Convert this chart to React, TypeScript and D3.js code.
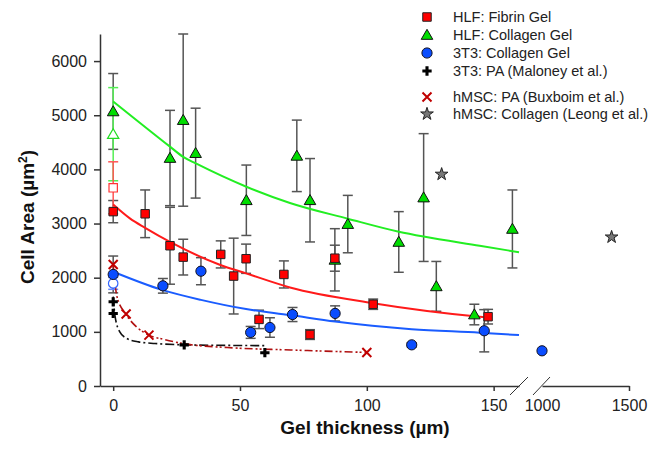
import * as d3 from "d3";
import { useEffect, useRef } from "react";

// HLF: Fibrin Gel (filled red squares)
const fibrinX = [0, 12.6, 22.4, 27.6, 42.4, 47.5, 52.4, 57.5, 67.3, 77.6, 87.4, 102.5, 147.8];
const fibrinY = [3220, 3180, 2590, 2380, 2430, 2030, 2350, 1230, 2060, 950, 2360, 1510, 1280];
const fibrinErr = [205, 440, 710, 330, 250, 700, 270, 170, 250, 90, 240, 95, 135];

// HLF: Collagen Gel (green triangles)
const hlfColX = [0, 22.4, 27.6, 32.5, 52.5, 72.4, 77.6, 87.4, 92.5, 112.6, 122.4, 127.4, 142.4, 157.4];
const hlfColY = [5070, 4210, 4910, 4300, 3430, 4250, 3430, 2330, 2990, 2660, 3480, 1840, 1320, 2900];
const hlfColErr = [700, 880, 1590, 830, 650, 660, 770, 575, 530, 560, 1180, 460, 190, 720];

// 3T3: Collagen Gel (blue circles)
const t3ColX = [0, 19.6, 34.6, 54.2, 61.8, 70.7, 87.5, 117.7, 146.3, 1000];
const t3ColY = [2060, 1850, 2120, 990, 1080, 1320, 1340, 760, 1020, 650];
const t3ColErr = [340, 135, 250, 110, 180, 130, 140, 40, 390, 0];

// 3T3: PA (Maloney et al.)
const maloneyX = [0, 0, 28, 59.8];
const maloneyY = [1555, 1340, 760, 615];

// hMSC: PA (Buxboim et al.)
const buxboimX = [0, 5.1, 14.1, 100];
const buxboimY = [2245, 1330, 940, 620];

// hMSC: Collagen (Leong et al.)
const leongX = [129.5, 1400];
const leongY = [3910, 2750];

// open markers at zero thickness
const openY = { triangle: 4650, square: 3660, circle: 1895 };
const openErr = { triangle: 860, square: 480, circle: 110 };

// fitted curves
const greenFitX = [0, 22.4, 27.6, 32.6, 52.5, 69.7, 92.5, 112.6, 122.4, 144.5, 160];
const greenFitY = [5255, 4420, 4230, 4110, 3680, 3380, 3090, 2850, 2760, 2590, 2470];
const redFitX = [0, 6.7, 12.6, 22.4, 42, 52.4, 69.7, 102.5, 144.5, 148];
const redFitY = [3350, 3090, 2920, 2660, 2240, 2080, 1820, 1530, 1280, 1265];
const blueFitX = [0, 19.6, 34.6, 52.4, 69.7, 87.5, 117.7, 144.5, 160];
const blueFitY = [2110, 1770, 1590, 1420, 1310, 1190, 1050, 985, 940];
const blackFitX = [0, 0.7, 2.6, 5.3, 10, 16.5, 28, 45, 60];
const blackFitY = [1650, 1300, 1000, 880, 815, 785, 760, 750, 745];
const bxFitX = [0, 1.5, 5.1, 10, 14.1, 20, 28, 45, 70, 100];
const bxFitY = [2230, 1650, 1320, 1060, 940, 860, 780, 710, 665, 620];

const yTicks = [0, 1000, 2000, 3000, 4000, 5000, 6000];
const xTicksLeft = [0, 50, 100, 150];
const xTicksRight = [1000, 1500];

const legendItems = [
  "HLF: Fibrin Gel",
  "HLF: Collagen Gel",
  "3T3: Collagen Gel",
  "3T3: PA (Maloney et al.)",
  "hMSC: PA (Buxboim et al.)",
  "hMSC: Collagen (Leong et al.)",
];

const W = 663, H = 455;
const font = "'Liberation Sans', Arial, Helvetica, sans-serif";
const RED = "#ff0000", GREEN = "#00dd00", BLUE = "#0a4dff", DKRED = "#c00000";

export default function App() {
  const svgRef = useRef(null);

  useEffect(() => {
    const svg = d3.select(svgRef.current);
    svg.selectAll("*").remove();

    const y = d3.scaleLinear().domain([0, 6500]).range([386, 34]);
    const xL = d3.scaleLinear().domain([-5.2, 160]).range([100, 519]);
    const xR = d3.scaleLinear().domain([1000, 1500]).range([542, 629]);
    const xp = (v) => (v >= 500 ? xR(v) : xL(v));
    const fmt = d3.format("d");

    // axes
    const yAx = svg.append("g").attr("transform", "translate(100,0)")
      .call(d3.axisLeft(y).tickValues(yTicks).tickFormat(fmt).tickSize(6).tickSizeOuter(0));
    const xAxL = svg.append("g").attr("transform", "translate(0,386)")
      .call(d3.axisBottom(xL).tickValues(xTicksLeft).tickFormat(fmt).tickSize(5).tickSizeOuter(0));
    const xAxR = svg.append("g").attr("transform", "translate(0,386)")
      .call(d3.axisBottom(xR).tickValues(xTicksRight).tickFormat(fmt).tickSize(5).tickSizeOuter(0));
    xAxR.selectAll(".tick").filter(d => d === 1000).select("line").remove();
    [yAx, xAxL, xAxR].forEach(g => {
      g.select(".domain").attr("stroke", "#333").attr("stroke-width", 1.5);
      g.selectAll(".tick line").attr("stroke", "#333").attr("stroke-width", 1.5);
      g.selectAll("text").attr("font-family", font).attr("font-size", 16).attr("fill", "#222");
    });
    yAx.selectAll("text").attr("x", -13);
    xAxL.selectAll("text").attr("y", 14);
    xAxR.selectAll("text").attr("y", 14);

    // axis break slashes
    [[510, 528], [533, 550]].forEach(([a, b]) => {
      svg.append("line").attr("x1", a).attr("y1", 395).attr("x2", b).attr("y2", 377)
        .attr("stroke", "#333").attr("stroke-width", 1);
    });

    // titles
    const yt = svg.append("text").attr("transform", `translate(34,217) rotate(-90)`)
      .attr("text-anchor", "middle").attr("font-family", font).attr("font-weight", "bold")
      .attr("font-size", 19).attr("fill", "#111");
    yt.append("tspan").text("Cell Area  (µm");
    yt.append("tspan").attr("baseline-shift", "super").attr("font-size", 12).text("2");
    yt.append("tspan").text(")");
    svg.append("text").attr("x", 365).attr("y", 434).attr("text-anchor", "middle")
      .attr("font-family", font).attr("font-weight", "bold").attr("font-size", 19).attr("fill", "#111")
      .text("Gel thickness (µm)");

    // error bars
    const errBars = (xs, ys, es, color) => {
      xs.forEach((xv, i) => {
        if (!es[i]) return;
        const cx = xp(xv), t = y(ys[i] + es[i]), b = y(ys[i] - es[i]);
        const g = svg.append("g").attr("stroke", color).attr("stroke-width", 1.5);
        g.append("line").attr("x1", cx).attr("x2", cx).attr("y1", t).attr("y2", b);
        g.append("line").attr("x1", cx - 5).attr("x2", cx + 5).attr("y1", t).attr("y2", t);
        g.append("line").attr("x1", cx - 5).attr("x2", cx + 5).attr("y1", b).attr("y2", b);
      });
    };
    errBars(hlfColX, hlfColY, hlfColErr, "#555");
    errBars(fibrinX, fibrinY, fibrinErr, "#555");
    errBars(t3ColX, t3ColY, t3ColErr, "#555");
    errBars([0], [openY.triangle], [openErr.triangle], "#55ee55");
    errBars([0], [openY.square], [openErr.square], "#ff5555");
    errBars([0], [openY.circle], [openErr.circle], "#6688ff");

    // fitted curves
    const fit = (xs, ys, color, dash, w) => {
      const line = d3.line().x(d => xp(d[0])).y(d => y(d[1])).curve(d3.curveMonotoneX);
      svg.append("path").datum(xs.map((v, i) => [v, ys[i]])).attr("d", line)
        .attr("fill", "none").attr("stroke", color).attr("stroke-width", w)
        .attr("stroke-dasharray", dash);
    };
    fit(greenFitX, greenFitY, "#22ee22", null, 2);
    fit(redFitX, redFitY, "#ff1a1a", null, 2);
    fit(blueFitX, blueFitY, "#1a5cff", null, 2);
    fit(blackFitX, blackFitY, "#111", "9,3,2,3", 1.6);
    fit(bxFitX, bxFitY, "#b01010", "8,3,2,2,2,3", 1.6);

    // markers
    const sym = (type, size) => d3.symbol().type(type).size(size)();
    const drawSym = (cx, cy, type, size, fill, stroke, sw) => {
      svg.append("path").attr("d", sym(type, size))
        .attr("transform", `translate(${cx},${cy})`)
        .attr("fill", fill).attr("stroke", stroke).attr("stroke-width", sw);
    };
    const drawX = (cx, cy) => {
      const r = 4.5;
      svg.append("path").attr("d", `M${cx - r},${cy - r}L${cx + r},${cy + r}M${cx - r},${cy + r}L${cx + r},${cy - r}`)
        .attr("stroke", DKRED).attr("stroke-width", 2).attr("fill", "none");
    };

    // open markers
    drawSym(xp(0), y(openY.triangle) + 1, d3.symbolTriangle, 55, "white", "#22dd22", 1.2);
    drawSym(xp(0), y(openY.square), d3.symbolSquare, 70, "white", "#ff3333", 1.2);
    drawSym(xp(0), y(openY.circle), d3.symbolCircle, 70, "white", "#3366ff", 1.2);

    hlfColX.forEach((v, i) => drawSym(xp(v), y(hlfColY[i]) + 1, d3.symbolTriangle, 58, GREEN, "#111", 1));
    fibrinX.forEach((v, i) => drawSym(xp(v), y(fibrinY[i]), d3.symbolSquare, 72, RED, "#222", 1));
    t3ColX.forEach((v, i) => drawSym(xp(v), y(t3ColY[i]), d3.symbolCircle, 82, BLUE, "#112", 1));
    maloneyX.forEach((v, i) => drawSym(xp(v), y(maloneyY[i]), d3.symbolCross, 48, "#000", "none", 0));
    buxboimX.forEach((v, i) => drawX(xp(v), y(buxboimY[i])));
    leongX.forEach((v, i) => drawSym(xp(v), y(leongY[i]), d3.symbolStar, 50, "#777", "#222", 1));

    // legend
    const rowsY = [17, 35, 53, 71, 97, 114];
    const lx = 427;
    drawSym(lx, rowsY[0], d3.symbolSquare, 72, RED, "#222", 1);
    drawSym(lx, rowsY[1] + 1, d3.symbolTriangle, 58, GREEN, "#111", 1);
    drawSym(lx, rowsY[2], d3.symbolCircle, 82, BLUE, "#112", 1);
    drawSym(lx, rowsY[3], d3.symbolCross, 48, "#000", "none", 0);
    drawX(lx, rowsY[4]);
    drawSym(lx, rowsY[5], d3.symbolStar, 50, "#777", "#222", 1);
    legendItems.forEach((t, i) => {
      svg.append("text").attr("x", 453).attr("y", rowsY[i]).attr("dy", "0.35em")
        .attr("font-family", font).attr("font-size", 14.5).attr("fill", "#222").text(t);
    });
  }, []);

  return (
    <svg ref={svgRef} width={W} height={H}
      style={{ position: "absolute", left: 0, top: 0, background: "white" }} />
  );
}
